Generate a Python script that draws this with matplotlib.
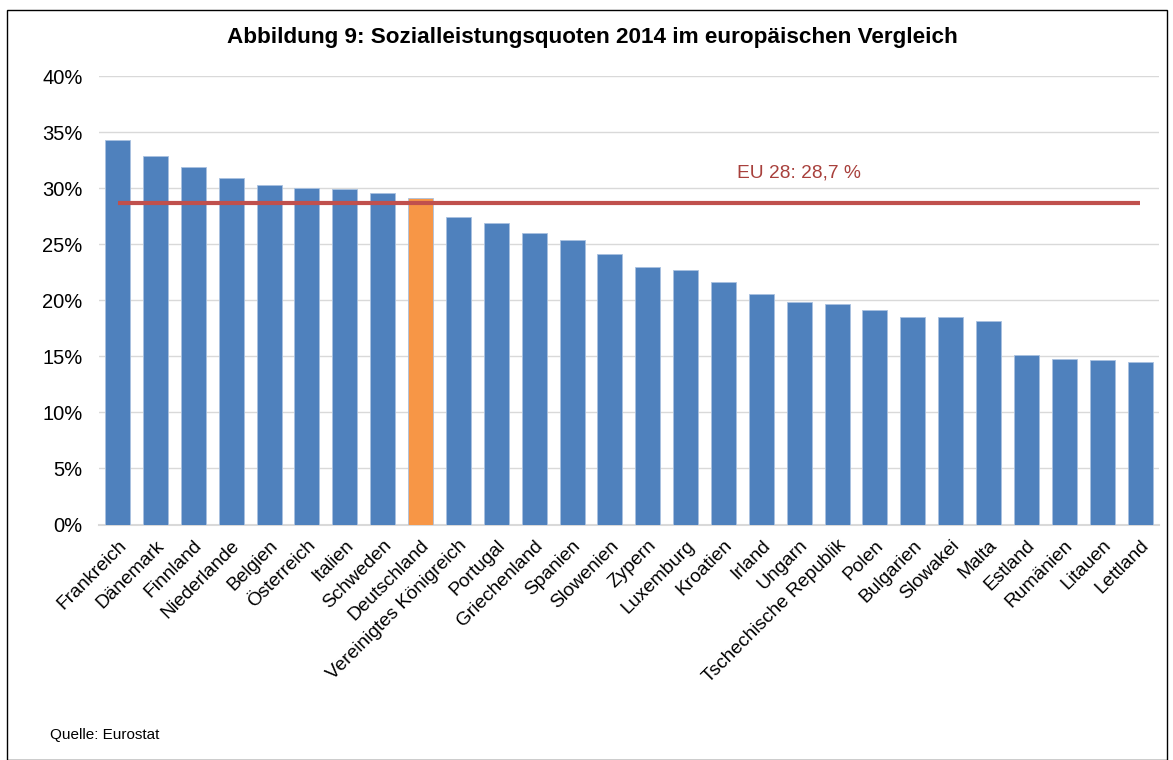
import matplotlib
matplotlib.use("Agg")
import matplotlib.pyplot as plt
from matplotlib.patches import Rectangle

plt.rcParams['font.family'] = ['Liberation Sans', 'DejaVu Sans']

countries = ["Frankreich", "Dänemark", "Finnland", "Niederlande", "Belgien", "Österreich",
             "Italien", "Schweden", "Deutschland", "Vereinigtes Königreich", "Portugal",
             "Griechenland", "Spanien", "Slowenien", "Zypern", "Luxemburg", "Kroatien",
             "Irland", "Ungarn", "Tschechische Republik", "Polen", "Bulgarien", "Slowakei",
             "Malta", "Estland", "Rumänien", "Litauen", "Lettland"]
values = [34.3, 32.9, 31.9, 30.9, 30.3, 30.0, 29.9, 29.6, 29.1, 27.4, 26.9, 26.0, 25.4,
          24.1, 23.0, 22.7, 21.6, 20.6, 19.9, 19.7, 19.1, 18.5, 18.5, 18.2, 15.1, 14.8,
          14.7, 14.5]
eu_value = 28.7
eu_label = "EU 28: 28,7 %"
highlight = "Deutschland"
yticks = [0, 5, 10, 15, 20, 25, 30, 35, 40]
title = "Abbildung 9: Sozialleistungsquoten 2014 im europäischen Vergleich"
source = "Quelle: Eurostat"

W, H = 1173, 760
fig = plt.figure(figsize=(W / 100, H / 100), dpi=100)
ax = fig.add_axes([98.7 / W, 1 - 524.5 / H, (1159 - 98.7) / W, (524.5 - 76.3) / H])

x = list(range(len(countries)))
colors = ["#F79646" if c == highlight else "#4F81BD" for c in countries]
ax.bar(x, values, width=0.66, color=colors, edgecolor="#A9C1E0", linewidth=0.6, zorder=3)
ax.plot([0, len(countries) - 1], [eu_value, eu_value], color="#C0504D", linewidth=3,
        solid_capstyle="butt", zorder=4)
ax.text(18, eu_value + 1.9, eu_label, color="#A8403C", fontsize=13.8, ha="center",
        va="bottom", zorder=5)

ax.set_xlim(-0.5, len(countries) - 0.5)
ax.set_ylim(0, 40)
ax.set_yticks(yticks)
ax.set_yticklabels([f"{v}%" for v in yticks], fontsize=14.5)
ax.set_xticks(x)
ax.set_xticklabels(countries, rotation=45, ha="right", rotation_mode="anchor", fontsize=13.8)
ax.tick_params(axis="both", length=0)
ax.tick_params(axis="x", pad=9)
ax.tick_params(axis="y", pad=11.5)
ax.grid(axis="y", color="#D9D9D9", linewidth=1, zorder=0)
for s in ["top", "right", "left"]:
    ax.spines[s].set_visible(False)
ax.spines["bottom"].set_color("#D9D9D9")
ax.spines["bottom"].set_linewidth(1.5)

fig.text(592 / W, 1 - 38 / H, title, fontsize=16.2, fontweight="bold", ha="center", va="center")
fig.text(50 / W, 1 - 735 / H, source, fontsize=11, ha="left", va="center")

fig.patches.append(Rectangle((6.5 / W, 0), (1167 - 6.5) / W, (H - 9.7) / H,
                             transform=fig.transFigure, fill=False, edgecolor="black",
                             linewidth=1))

fig.savefig("out.png", dpi=100)
